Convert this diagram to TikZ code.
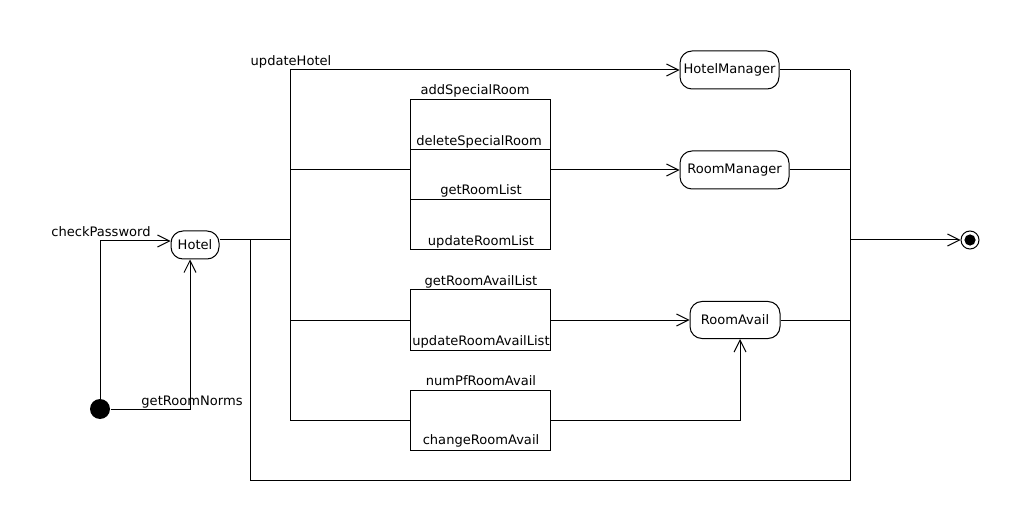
\documentclass[tikz,border=0pt]{standalone}
\usepackage{fontspec}
\setmainfont{DejaVu Sans}
\usetikzlibrary{arrows.meta}
\begin{document}
\begin{tikzpicture}[x=0.75pt,y=-0.75pt,
  line width=0.75pt,
  every node/.style={font=\fontsize{9.8}{11}\selectfont},
  state/.style={draw,rounded corners=9pt,inner sep=0pt},
  act/.style={draw,minimum width=105pt,inner sep=0pt},
  lbl/.style={inner sep=0pt},
  flow/.style={-{Straight Barb[length=9pt,width=9pt]}}]
\useasboundingbox (0,0) rectangle (1010,520);
\fill[white] (0,0) rectangle (1010,520);

% states
\node[circle,fill,minimum size=15pt,inner sep=0pt] (init) at (100,409) {};
\node[state,minimum width=36pt,minimum height=21pt] (hotel) at (195,245) {Hotel};
\node[state,minimum width=74.25pt,minimum height=28.5pt] (hm) at (729.5,70) {HotelManager};
\node[state,minimum width=81.75pt,minimum height=28.5pt] (rm) at (734.5,170) {RoomManager};
\node[state,minimum width=67.5pt,minimum height=27.75pt] (ra) at (735,320) {RoomAvail};
\node[circle,draw,minimum size=13.5pt,inner sep=0pt] (fin) at (970,240) {};
\fill (fin) circle (4.2pt);

% activity boxes
\node[act,minimum height=37.5pt] (b1a) at (480,125) {};
\node[act,minimum height=37.5pt] (b1b) at (480,175) {};
\node[act,minimum height=37.5pt] (b1c) at (480,225) {};
\node[act,minimum height=45pt] (b2) at (480,320) {};
\node[act,minimum height=45pt] (b3) at (480,420) {};

% labels
\node[lbl] (lcp) at (101,232) {checkPassword};
\node[lbl] (lgr) at (192,402) {getRoomNorms};
\node[lbl] (luh) at (291,62) {updateHotel};
\node[lbl] (l1) at (475,91) {addSpecialRoom};
\node[lbl] (l2) at (479,142) {deleteSpecialRoom};
\node[lbl] (l3) at (481,191) {getRoomList};
\node[lbl] (l4) at (481,242) {updateRoomList};
\node[lbl] (l5) at (481,282) {getRoomAvailList};
\node[lbl] (l6) at (481,342) {updateRoomAvailList};
\node[lbl] (l7) at (481,381) {numPfRoomAvail};
\node[lbl] (l8) at (481,441) {changeRoomAvail};

% junction coordinates
\coordinate (s1) at (290,240);
\coordinate (s2) at (250,240);
\coordinate (st) at (290,70);
\coordinate (sm) at (290,170);
\coordinate (sa) at (290,320);
\coordinate (sb) at (290,420);
\coordinate (rt) at (850,70);
\coordinate (rb) at (850,480);
\coordinate (rk) at (850,240);
\coordinate (ci) at (100,241);
\coordinate (gi) at (190,409);

% connectors
\draw[flow] (init.north) -- (ci) -- (ci -| hotel.west);
\draw[flow] (init.east) -- (gi) -- (gi |- hotel.south);
\draw (s1 -| hotel.east) -- (s1);
\draw (st) -- (sb);
\draw (s2) |- (rb) -- (rt);
\draw[flow] (st) -- (hm.west);
\draw (sm) -- (sm -| b1b.west);
\draw[flow] (sm -| b1b.east) -- (rm.west);
\draw (sa) -- (b2.west);
\draw[flow] (b2.east) -- (ra.west);
\draw (sb) -- (b3.west);
\draw[flow] (b3.east) -| ([xshift=3.75pt]ra.south);
\draw (hm.east) -- (rt);
\draw (rm.east) -- (rm.east -| rt);
\draw (ra.east) -- (ra.east -| rt);
\draw[flow] (rk) -- (fin.west);
\end{tikzpicture}
\end{document}
